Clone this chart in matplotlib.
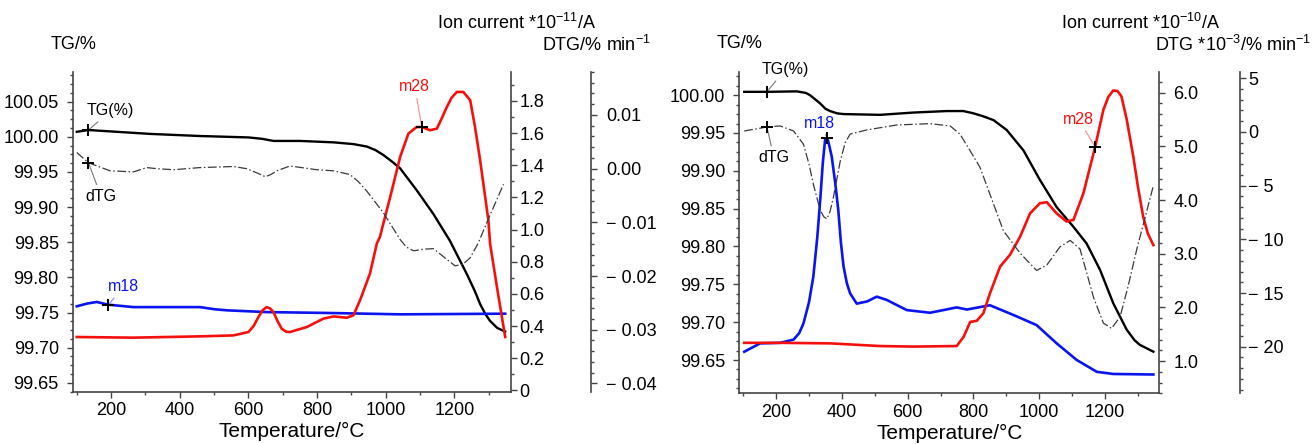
import numpy as np
import matplotlib
matplotlib.use("Agg")
import matplotlib.pyplot as plt
from matplotlib.ticker import MultipleLocator, FuncFormatter

plt.rcParams["font.family"] = ["Liberation Sans", "DejaVu Sans"]
plt.rcParams["mathtext.fontset"] = "custom"
plt.rcParams["mathtext.rm"] = "Liberation Sans"
plt.rcParams["mathtext.it"] = "Liberation Sans:italic"

# ---- left panel ----
l_tg_t = [100, 134, 314, 459, 600, 640, 673, 750, 848, 906, 945, 970, 993, 1020,
          1042, 1090, 1139, 1187, 1236, 1260, 1275, 1290, 1304, 1325, 1348]
l_tg = [100.007, 100.0095, 100.004, 100.001, 99.999, 99.997, 99.994, 99.994,
        99.992, 99.9895, 99.986, 99.981, 99.974, 99.964, 99.955, 99.924, 99.890,
        99.852, 99.805, 99.780, 99.762, 99.748, 99.738, 99.728, 99.723]

l_dtg_t = [100, 134, 197, 265, 304, 333, 382, 459, 556, 595, 625, 649, 665, 683,
           721, 799, 848, 896, 920, 945, 993, 1042, 1060, 1081, 1110, 1139, 1178,
           1202, 1225, 1246, 1270, 1294, 1320, 1343]
l_dtg = [0.003, 0.0011, -0.0004, -0.0006, 0.0002, 0.0, -0.0002, 0.0002, 0.0004,
         0.0, -0.0008, -0.0015, -0.0011, -0.0004, 0.0005, -0.0002, -0.0004,
         -0.0011, -0.0024, -0.0042, -0.0082, -0.0132, -0.0146, -0.0153, -0.0150,
         -0.0149, -0.0169, -0.0181, -0.0178, -0.0166, -0.0138, -0.0101, -0.0063,
         -0.0029]

l_m18_t = [100, 130, 158, 192, 265, 459, 500, 537, 653, 848, 1042, 1348]
l_m18 = [0.523, 0.54, 0.55, 0.533, 0.518, 0.518, 0.505, 0.498, 0.487, 0.481,
         0.473, 0.477]

l_m28_t = [100, 265, 459, 556, 600, 615, 629, 642, 653, 663, 673, 685, 697, 710,
           721, 770, 818, 848, 886, 906, 925, 954, 974, 983, 1013, 1042, 1066,
           1090, 1105, 1129, 1149, 1165, 1178, 1192, 1207, 1226, 1246, 1260, 1275,
           1299, 1304, 1324, 1348]
l_m28 = [0.332, 0.328, 0.336, 0.342, 0.363, 0.40, 0.456, 0.50, 0.518, 0.51,
         0.487, 0.43, 0.383, 0.365, 0.363, 0.394, 0.446, 0.46, 0.452, 0.467,
         0.56, 0.726, 0.913, 0.954, 1.203, 1.452, 1.597, 1.638, 1.638, 1.618,
         1.628, 1.70, 1.763, 1.82, 1.856, 1.856, 1.805, 1.64, 1.431, 1.058,
         0.913, 0.643, 0.332]

# ---- right panel ----
r_tg_t = [103, 172, 263, 290, 303, 320, 334, 350, 364, 385, 405, 516, 617, 719,
          769, 800, 830, 861, 901, 952, 1002, 1053, 1104, 1144, 1185, 1225, 1266,
          1290, 1306, 1347]
r_tg = [100.0044, 100.0044, 100.005, 100.003, 100.0, 99.994, 99.989, 99.982,
        99.979, 99.976, 99.975, 99.974, 99.977, 99.979, 99.979, 99.976, 99.972,
        99.967, 99.954, 99.927, 99.888, 99.852, 99.826, 99.804, 99.769, 99.725,
        99.690, 99.676, 99.670, 99.661]

r_dtg_t = [103, 172, 212, 253, 283, 300, 313, 334, 345, 354, 364, 374, 395, 410,
           425, 476, 567, 668, 729, 759, 790, 820, 850, 891, 942, 992, 1023, 1063,
           1094, 1124, 1145, 1165, 1195, 1220, 1246, 1270, 1296, 1347]
r_dtg = [0.09, 0.46, 0.56, 0.09, -1.14, -3.0, -4.85, -7.3, -7.9, -8.1, -7.4,
         -6.1, -2.7, -1.0, -0.2, 0.19, 0.65, 0.77, 0.56, -0.2, -1.76, -3.3, -5.8,
         -9.2, -11.3, -12.9, -12.4, -10.7, -10.1, -10.9, -13.2, -15.4, -17.8,
         -18.3, -17.2, -14.4, -11.0, -5.0]

r_m18_t = [103, 151, 212, 253, 270, 283, 300, 313, 325, 334, 342, 349, 356, 362,
           369, 380, 389, 397, 405, 415, 425, 445, 476, 506, 536, 597, 668, 749,
           780, 850, 921, 992, 1053, 1114, 1175, 1225, 1347]
r_m18 = [1.174, 1.33, 1.34, 1.40, 1.52, 1.70, 2.10, 2.57, 3.30, 4.0, 4.70, 5.13,
         5.15, 5.00, 4.81, 4.30, 3.81, 3.20, 2.76, 2.45, 2.26, 2.07, 2.11, 2.2,
         2.14, 1.95, 1.90, 2.0, 1.96, 2.04, 1.86, 1.67, 1.33, 1.02, 0.80, 0.76,
         0.75]

r_m28_t = [103, 212, 364, 516, 617, 749, 770, 790, 810, 830, 850, 881, 911, 942,
           972, 1002, 1023, 1053, 1083, 1104, 1134, 1170, 1195, 1210, 1225, 1238,
           1250, 1266, 1286, 1300, 1316, 1330, 1347]
r_m28 = [1.34, 1.34, 1.33, 1.28, 1.27, 1.28, 1.45, 1.73, 1.75, 1.89, 2.26, 2.76,
         2.98, 3.32, 3.75, 3.94, 3.96, 3.75, 3.60, 3.63, 4.12, 4.99, 5.68, 5.92,
         6.04, 6.03, 5.93, 5.50, 4.81, 4.25, 3.69, 3.38, 3.16]

# temperatures of the "+" markers: TG, dTG, m18, m28
l_marks = [134, 134, 192, 1105]
r_marks = [172, 172, 356, 1170]

SPINE = "#444444"


def minus_fmt(decimals):
    def f(v, pos):
        if abs(v) < 1e-12:
            return f"{0:.{decimals}f}"
        s = f"{abs(v):.{decimals}f}"
        return "\u2212 " + s if v < 0 else s
    return FuncFormatter(f)


def style_axis(ax, side):
    for name, sp in ax.spines.items():
        sp.set_visible(False)
    ax.spines[side].set_visible(True)
    ax.spines[side].set_color(SPINE)
    ax.spines[side].set_linewidth(1.2)
    ax.tick_params(axis="y", which="both", direction="out", colors=SPINE,
                   labelcolor="black", labelsize=13, width=1,
                   left=(side == "left"), right=(side == "right"),
                   labelleft=(side == "left"), labelright=(side == "right"))
    ax.tick_params(axis="y", which="major", length=4)
    ax.tick_params(axis="y", which="minor", length=2.5)


def mark(ax, t, tt, yy, text, color, line_color, offset):
    y = np.interp(t, tt, yy)
    ax.plot([t], [y], marker="+", color="black", ms=9, mew=1.4, zorder=6)
    ax.annotate(text, (t, y), xytext=offset, textcoords="offset points",
                ha="center", va="center", color=color, fontsize=11.5,
                arrowprops=dict(arrowstyle="-", color=line_color, lw=0.8,
                                shrinkA=1, shrinkB=0))


def draw_panel(fig, rect, tg_t, tg, dtg_t, dtg, m18_t, m18, m28_t, m28,
               marks, tg_lim, ion_lim, dtg_lim, ion_step, ion_minor, ion_fmt,
               dtg_step, dtg_minor, dtg_fmt, dtg_pos, offsets, ion_pad, dtg_pad):
    ax = fig.add_axes(rect)
    ax.plot(tg_t, tg, color="black", lw=1.7, zorder=3)
    ax.set_xlim(88, 1365)
    ax.set_ylim(*tg_lim)
    ax.yaxis.set_major_locator(MultipleLocator(0.05))
    ax.yaxis.set_minor_locator(MultipleLocator(0.0125))
    ax.yaxis.set_major_formatter(FuncFormatter(lambda v, p: f"{v:.2f}"))
    ax.xaxis.set_major_locator(MultipleLocator(200))
    ax.xaxis.set_minor_locator(MultipleLocator(100))
    style_axis(ax, "left")
    ax.spines["bottom"].set_visible(True)
    ax.spines["bottom"].set_color(SPINE)
    ax.spines["bottom"].set_linewidth(1.2)
    ax.tick_params(axis="y", pad=6)
    ax.tick_params(axis="x", which="both", direction="out", colors=SPINE,
                   labelcolor="black", labelsize=13, width=1)
    ax.tick_params(axis="x", which="major", length=4)
    ax.tick_params(axis="x", which="minor", length=2.5)
    ax.set_xlabel("Temperature/\u00b0C", fontsize=15, labelpad=2)

    ion = ax.twinx()
    ion.plot(m18_t, m18, color="#0a14f0", lw=1.9)
    ion.plot(m28_t, m28, color="#f5100e", lw=1.9)
    ion.set_ylim(*ion_lim)
    ion.yaxis.set_major_locator(MultipleLocator(ion_step))
    ion.yaxis.set_minor_locator(MultipleLocator(ion_minor))
    ion.yaxis.set_major_formatter(ion_fmt)
    style_axis(ion, "right")
    ion.tick_params(axis="y", pad=ion_pad)

    dax = ax.twinx()
    dax.plot(dtg_t, dtg, color="#3a3a3a", lw=0.9, linestyle=(0, (7, 2, 1.2, 2)))
    dax.set_ylim(*dtg_lim)
    dax.yaxis.set_major_locator(MultipleLocator(dtg_step))
    dax.yaxis.set_minor_locator(MultipleLocator(dtg_minor))
    dax.yaxis.set_major_formatter(dtg_fmt)
    style_axis(dax, "right")
    dax.spines["right"].set_position(("axes", dtg_pos))
    dax.tick_params(axis="y", pad=dtg_pad)

    mark(ax, marks[0], tg_t, tg, "TG(%)", "black", "#777777", offsets[0])
    mark(dax, marks[1], dtg_t, dtg, "dTG", "black", "#777777", offsets[1])
    mark(ion, marks[2], m18_t, m18, "m18", "#0a14f0", "#8a8cff", offsets[2])
    mark(ion, marks[3], m28_t, m28, "m28", "#f5100e", "#ff8a8a", offsets[3])
    return ax


fig = plt.figure(figsize=(13.12, 4.44), dpi=100)

ion_fmt_l = FuncFormatter(lambda v, p: "0" if abs(v) < 1e-9 else f"{v:.1f}")
ion_fmt_r = FuncFormatter(lambda v, p: f"{v:.1f}")

draw_panel(fig, [0.0554, 0.1171, 0.3341, 0.7207],
           l_tg_t, l_tg, l_dtg_t, l_dtg, l_m18_t, l_m18, l_m28_t, l_m28,
           l_marks, (99.637, 100.092), (-0.01, 1.98), (-0.0416, 0.018),
           0.2, 0.1, ion_fmt_l, 0.01, 0.002, minus_fmt(2), 1.1825,
           [(16, 14), (9, -24), (11, 13), (-5, 29)], 2, 7)

draw_panel(fig, [0.5635, 0.1142, 0.3201, 0.7243],
           r_tg_t, r_tg, r_dtg_t, r_dtg, r_m18_t, r_m18, r_m28_t, r_m28,
           r_marks, (99.606, 100.031), (0.40, 6.39), (-24.34, 5.61),
           1.0, 0.2, ion_fmt_r, 5, 1, minus_fmt(0), 1.192,
           [(13, 16), (5, -22), (-6, 11), (-12, 20)], 6, 2)

fig.text(0.056, 0.899, "TG/%", fontsize=13, ha="center", va="center")
fig.text(0.4543, 0.948, r"Ion current *10$^{-11}$/A", fontsize=13, ha="right", va="center")
fig.text(0.4962, 0.899, r"DTG/% min$^{-1}$", fontsize=13, ha="right", va="center")

fig.text(0.564, 0.903, "TG/%", fontsize=13, ha="center", va="center")
fig.text(0.930, 0.948, r"Ion current *10$^{-10}$/A", fontsize=13, ha="right", va="center")
fig.text(0.999, 0.899, r"DTG *10$^{-3}$/% min$^{-1}$", fontsize=13, ha="right", va="center")

fig.savefig("out.png", dpi=100)
